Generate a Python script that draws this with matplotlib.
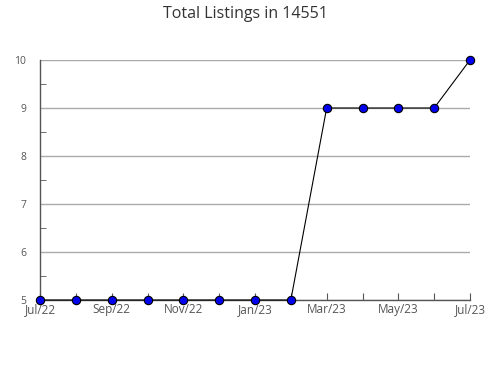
import matplotlib
matplotlib.use("Agg")
import matplotlib.pyplot as plt
from matplotlib.ticker import MultipleLocator

months = ["Jul/22", "Aug/22", "Sep/22", "Oct/22", "Nov/22", "Dec/22", "Jan/23",
          "Feb/23", "Mar/23", "Apr/23", "May/23", "Jun/23", "Jul/23"]
listings = [5, 5, 5, 5, 5, 5, 5, 5, 9, 9, 9, 9, 10]
y_ticks = [5, 6, 7, 8, 9, 10]

plt.rcParams['font.family'] = ['Open Sans', 'DejaVu Sans']

fig = plt.figure(figsize=(4.9, 3.8), dpi=100)
ax = fig.add_axes([40/490, 1-300/380, 430/490, 240/380])

x = list(range(len(months)))
ax.plot(x, listings, color='black', linewidth=0.8, marker='o', markersize=6,
        markerfacecolor='#0000ee', markeredgecolor='black', markeredgewidth=0.8,
        zorder=3, clip_on=False)

ax.set_xlim(0, len(months)-1)
ax.set_ylim(5, 10)
ax.set_yticks(y_ticks)
ax.set_yticklabels([str(v) for v in y_ticks])
ax.yaxis.set_minor_locator(MultipleLocator(0.5))
ax.set_xticks(x)
ax.set_xticklabels([m if i % 2 == 0 else "" for i, m in enumerate(months)])

ax.grid(axis='y', which='major', color='#aaaaaa', linewidth=1)
ax.set_axisbelow(True)
for s in ['top', 'right']:
    ax.spines[s].set_visible(False)
for s in ['left', 'bottom']:
    ax.spines[s].set_color('#555555')
    ax.spines[s].set_linewidth(1)

ax.tick_params(axis='y', which='major', length=0, pad=10, labelsize=7.5, labelcolor='#555555')
ax.tick_params(axis='y', which='minor', direction='in', length=4, color='#555555')
ax.tick_params(axis='x', which='major', direction='in', length=5, color='#555555',
               pad=2, labelsize=8.5, labelcolor='#555555')

fig.suptitle("Total Listings in 14551", y=1-6/380, va='top', fontsize=11.5, color='#333333')

fig.savefig("out.png", dpi=100)
